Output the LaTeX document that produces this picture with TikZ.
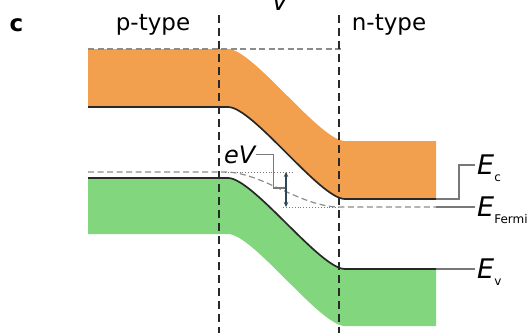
\documentclass[tikz,border=0pt]{standalone}
\usepackage{fontspec}
\setmainfont{DejaVu Sans}[ItalicFont={DejaVu Sans Oblique},BoldFont={DejaVu Sans Bold}]
\usetikzlibrary{arrows.meta}

\definecolor{bandorange}{RGB}{242,160,78}
\definecolor{bandgreen}{RGB}{130,214,126}
\definecolor{edgedark}{RGB}{40,40,40}
\definecolor{leadgray}{RGB}{120,120,120}
\definecolor{arrowslate}{RGB}{45,70,85}

\newcommand{\lowsub}[1]{\raisebox{-7pt}{\fontsize{12}{12}\selectfont\upshape #1}}

\begin{document}
\begin{tikzpicture}[
    x=1pt, y=-1pt,
    font=\fontsize{23}{27}\selectfont,
    bandedge/.style={draw=edgedark, line width=1.7pt},
    junction/.style={draw=edgedark, line width=1.7pt, dash pattern=on 8pt off 5pt},
    refline/.style={draw=leadgray!85, line width=1.2pt, dash pattern=on 6pt off 3.5pt},
    dotline/.style={draw=leadgray, line width=0.9pt, dotted},
    leader/.style={draw=leadgray, line width=1.2pt},
    elabel/.style={anchor=base west, inner sep=0pt, yshift=-9pt,
        font=\fontsize{27}{30}\selectfont\itshape},
    toplabel/.style={anchor=base, inner sep=0pt},
    levelarrow/.style={{Stealth[length=5pt,width=4.5pt]}-{Stealth[length=5pt,width=4.5pt]},
        draw=arrowslate, line width=1.4pt}
]
\useasboundingbox (0,0) rectangle (529,333);

% ---------------------------------------------------------------------------
% Bands
% ---------------------------------------------------------------------------
\fill[bandorange] (88,49) -- (228,49) .. controls (253,49) and (320,141) .. (345,141)
    -- (436,141) -- (436,199) -- (345,199) .. controls (320,199) and (253,107) .. (228,107)
    -- (88,107) -- cycle;
\fill[bandgreen] (88,178) -- (228,178) .. controls (253,178) and (320,269) .. (345,269)
    -- (436,269) -- (436,326) -- (345,326) .. controls (320,326) and (253,234) .. (228,234)
    -- (88,234) -- cycle;

\coordinate (ecend) at (436,199);
\coordinate (efend) at (436,207);
\coordinate (evend) at (436,269);

% ---------------------------------------------------------------------------
% Reference levels
% ---------------------------------------------------------------------------
\draw[refline] (88,49) -- (343,49);
\draw[refline] (88,172) -- (225,172) .. controls (262,172) and (300,207) .. (340,207) -- (efend);
\draw[dotline] (225,172) -- (293,172);
\draw[dotline] (283,207) -- (340,207);

% band edges
\draw[bandedge] (88,107) -- (228,107) .. controls (253,107) and (320,199) .. (345,199) -- (ecend);
\draw[bandedge] (88,178) -- (228,178) .. controls (253,178) and (320,269) .. (345,269) -- (evend);

% junction borders
\draw[junction] (219,15) -- (219,333);
\draw[junction] (339,15) -- (339,333);

% ---------------------------------------------------------------------------
% eV shift
% ---------------------------------------------------------------------------
\coordinate (fpleft) at (286,172);
\coordinate (fnright) at (286,207);
\coordinate (evtip) at (285,188);
\draw[levelarrow] (fpleft) -- (fnright);

\node[anchor=base west, inner sep=0pt, font=\fontsize{24}{27}\selectfont\itshape] (evtext) at (224,163) {eV};
\draw[leader] (evtext.east) -- ++(18,0) |- (evtip);

% ---------------------------------------------------------------------------
% Labels
% ---------------------------------------------------------------------------
\node[toplabel, font=\fontsize{23}{27}\selectfont\bfseries] (panel) at (16.5,31) {c};
\node[toplabel] (ptype) at (153,30) {p-type};
\node[toplabel] (ntype) at (389,30) {n-type};
\node[toplabel, font=\fontsize{24}{26}\selectfont\itshape] (volt) at (280,10) {V};

\coordinate (ectip) at (475,165);
\coordinate (eftip) at (475,207);
\coordinate (evtip2) at (475,269);

\draw[leader] (ecend) -- ++(23,0) |- (ectip);
\draw[leader] (efend) -- (eftip);
\draw[leader] (evend) -- (evtip2);

\node[elabel] (eclabel) at ([xshift=2pt]ectip) {E\lowsub{c}};
\node[elabel] (eflabel) at ([xshift=2pt]eftip) {E\lowsub{Fermi}};
\node[elabel] (evlabel) at ([xshift=2pt]evtip2) {E\lowsub{v}};

\end{tikzpicture}
\end{document}
